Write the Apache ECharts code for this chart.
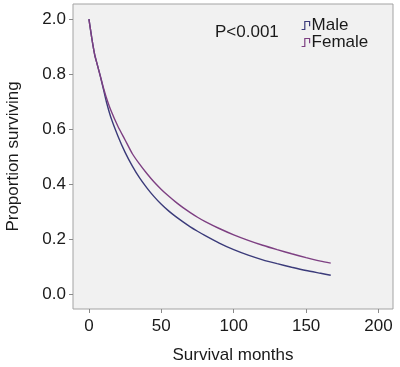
<!DOCTYPE html>
<html>
<head>
<meta charset="utf-8">
<script src="https://cdn.jsdelivr.net/npm/echarts@6/dist/echarts.min.js"></script>
<style>
  html, body { margin: 0; padding: 0; background: #fff; }
  #main { width: 400px; height: 367px; }
</style>
</head>
<body>
<div id="main"></div>
<script>
// survival curves (months, proportion)
var months = [0, 2, 4, 6, 8, 10, 12, 15, 20, 25, 30, 35, 40, 45, 50, 55, 60, 65, 70, 75, 80, 90, 100, 110, 120, 130, 140, 150, 160, 167]
var male = [1.0, 0.93, 0.87, 0.83, 0.79, 0.745, 0.70, 0.645, 0.575, 0.515, 0.465, 0.422, 0.386, 0.354, 0.326, 0.302, 0.281, 0.262, 0.244, 0.228, 0.213, 0.185, 0.161, 0.141, 0.124, 0.11, 0.097, 0.085, 0.075, 0.068]
var female = [1.0, 0.93, 0.87, 0.83, 0.79, 0.75, 0.715, 0.67, 0.61, 0.56, 0.51, 0.472, 0.438, 0.407, 0.38, 0.356, 0.334, 0.314, 0.296, 0.279, 0.264, 0.238, 0.215, 0.195, 0.177, 0.161, 0.146, 0.132, 0.119, 0.112]
var xTicks = [0, 50, 100, 150, 200]
var yTicks = [0, 0.2, 0.4, 0.6, 0.8, 1.0]
var yTickLabels = ['0.0', '0.2', '0.4', '0.6', '0.8', '2.0']

var maleColor = '#3b3b7a'
var femaleColor = '#7d3f82'

function pairs (ys) {
  return months.map(function (m, i) { return [m, ys[i]] })
}

var chart = echarts.init(document.getElementById('main'))
var stepIcon = 'path://M0,10 L4,10 L4,0 L10,0 L10,6'
var font = 'Liberation Sans, Arial, sans-serif'

var option = {
  animation: false,
  textStyle: { fontFamily: font },
  grid: {
    left: 73, top: 4, right: 7, bottom: 58,
    containLabel: false,
    outerBoundsMode: 'none',
    show: true,
    backgroundColor: '#f1f1f1',
    borderColor: '#a3a3a3',
    borderWidth: 1
  },
  legend: {
    orient: 'vertical',
    left: 296,
    top: 12,
    itemWidth: 10,
    itemHeight: 8,
    itemGap: 0,
    icon: stepIcon,
    textStyle: { fontSize: 17, color: '#1a1a1a', padding: [0, 0, 0, -4] },
    data: [
      { name: 'Male', itemStyle: { color: 'transparent', borderColor: maleColor, borderWidth: 1.2 } },
      { name: 'Female', itemStyle: { color: 'transparent', borderColor: femaleColor, borderWidth: 1.2 } }
    ]
  },
  graphic: [{
    type: 'text',
    left: 215,
    top: 24,
    style: { text: 'P<0.001', fill: '#1a1a1a', font: '17px ' + font }
  }],
  xAxis: {
    type: 'value',
    min: -11,
    max: 210,
    name: 'Survival months',
    nameLocation: 'middle',
    nameGap: 38,
    nameTextStyle: { fontSize: 17, color: '#1a1a1a' },
    axisLine: { show: false, onZero: false },
    axisTick: { show: true, length: 4, lineStyle: { color: '#8a8a8a' }, customValues: xTicks },
    axisLabel: { fontSize: 17, color: '#1a1a1a', margin: 9, customValues: xTicks },
    splitLine: { show: false }
  },
  yAxis: {
    type: 'value',
    min: -0.055,
    max: 1.055,
    name: 'Proportion surviving',
    nameLocation: 'middle',
    nameGap: 51,
    nameTextStyle: { fontSize: 17, color: '#1a1a1a' },
    axisLine: { show: false, onZero: false },
    axisTick: { show: true, length: 4, lineStyle: { color: '#8a8a8a' }, customValues: yTicks },
    axisLabel: {
      fontSize: 17,
      color: '#1a1a1a',
      margin: 7,
      customValues: yTicks,
      formatter: function (v) {
        var i = yTicks.findIndex(function (t) { return Math.abs(t - v) < 1e-6 })
        return i >= 0 ? yTickLabels[i] : ''
      }
    },
    splitLine: { show: false }
  },
  series: [
    {
      name: 'Male',
      type: 'line',
      data: pairs(male),
      showSymbol: false,
      smooth: 0.2,
      lineStyle: { color: maleColor, width: 1.4 },
      itemStyle: { color: maleColor }
    },
    {
      name: 'Female',
      type: 'line',
      data: pairs(female),
      showSymbol: false,
      smooth: 0.2,
      lineStyle: { color: femaleColor, width: 1.4 },
      itemStyle: { color: femaleColor }
    }
  ]
}

chart.setOption(option)
window.addEventListener('resize', () => chart.resize())
</script>
</body>
</html>
